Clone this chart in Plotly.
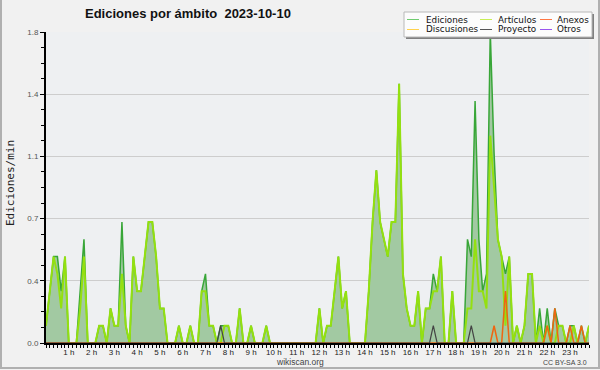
import plotly.graph_objects as go

# 10-minute bins, 144 per day (values in edits/min)
ediciones = [0.1, 0.3, 0.5, 0.5, 0.3, 0.5, 0, 0, 0, 0.3,
             0.6, 0, 0, 0, 0.1, 0.1, 0, 0.2, 0.1, 0.1,
             0.7, 0.1, 0, 0.5, 0.3, 0.3, 0.5, 0.7, 0.7, 0.5,
             0.2, 0.2, 0, 0, 0, 0.1, 0, 0, 0.1, 0,
             0, 0.3, 0.4, 0.1, 0.1, 0, 0.1, 0.1, 0.1, 0,
             0, 0.2, 0, 0, 0.1, 0, 0, 0, 0.1, 0,
             0, 0, 0, 0, 0, 0, 0, 0, 0, 0,
             0, 0, 0.2, 0, 0.1, 0.1, 0.3, 0.5, 0.2, 0.3,
             0, 0, 0, 0, 0, 0.3, 0.7, 1.0, 0.7, 0.6,
             0.5, 0.7, 0.7, 1.5, 0.4, 0.2, 0.1, 0.1, 0.3, 0,
             0.2, 0.2, 0.4, 0.3, 0.5, 0, 0, 0.3, 0, 0,
             0, 0.6, 0.5, 1.4, 0.6, 0.3, 0.4, 1.8, 1.1, 0.6,
             0.5, 0.4, 0.5, 0, 0.1, 0, 0.1, 0.4, 0.4, 0,
             0.2, 0, 0.2, 0, 0.2, 0.1, 0.1, 0, 0.1, 0.1,
             0, 0.1, 0, 0.1]
articulos = [0.1, 0.3, 0.5, 0.4, 0.2, 0.5, 0, 0, 0, 0.2,
             0.5, 0, 0, 0, 0.1, 0.1, 0, 0.2, 0.1, 0.1,
             0.4, 0.1, 0, 0.5, 0.3, 0.3, 0.5, 0.7, 0.7, 0.5,
             0.2, 0.2, 0, 0, 0, 0.1, 0, 0, 0.1, 0,
             0, 0.3, 0.3, 0.1, 0.1, 0, 0, 0.1, 0.1, 0,
             0, 0.2, 0, 0, 0.1, 0, 0, 0, 0.1, 0,
             0, 0, 0, 0, 0, 0, 0, 0, 0, 0,
             0, 0, 0.2, 0, 0.1, 0.1, 0.3, 0.5, 0.2, 0.3,
             0, 0, 0, 0, 0, 0.3, 0.7, 1.0, 0.7, 0.6,
             0.5, 0.7, 0.7, 1.5, 0.4, 0.2, 0.1, 0.1, 0.3, 0,
             0.2, 0.2, 0.3, 0.3, 0.5, 0, 0, 0.3, 0, 0,
             0, 0.2, 0.2, 0.6, 0.3, 0.3, 0.2, 1.2, 0.9, 0.6,
             0.5, 0.1, 0.5, 0, 0.1, 0, 0.1, 0.4, 0.4, 0,
             0.1, 0, 0.1, 0, 0, 0.1, 0.1, 0, 0, 0.1,
             0, 0, 0, 0.1]
anexos_bins = [118, 121, 132, 134, 138, 141]
anexos_vals = [0.1, 0.3, 0.1, 0.2, 0.1, 0.1]
proyecto_bins = [46, 102, 112]
proyecto_vals = [0.1, 0.1, 0.1]

hours = list(range(1, 24))
hour_labels = [f"{h} h" for h in hours]
y_ticks = [0, 0.36, 0.72, 1.08, 1.44, 1.8]
y_labels = ["0.0", "0.4", "0.7", "1.1", "1.4", "1.8"]

n = len(ediciones)
t = [i / 6 for i in range(n)]

def spread(bins, vals):
    out = [0.0] * n
    for b, v in zip(bins, vals):
        out[b] = v
    return out

anexos = spread(anexos_bins, anexos_vals)
proyecto = spread(proyecto_bins, proyecto_vals)

SANS = "Liberation Sans, Arial, sans-serif"

fig = go.Figure()
fig.add_trace(go.Scatter(x=t, y=ediciones, mode="lines", fill="tozeroy",
                         fillcolor="#a2c9a2", line=dict(color="#38a638", width=1.5),
                         name="Ediciones", showlegend=False))
fig.add_trace(go.Scatter(x=t, y=articulos, mode="lines",
                         line=dict(color="#94e010", width=2),
                         name="Artículos", showlegend=False))
fig.add_trace(go.Scatter(x=t, y=anexos, mode="lines",
                         line=dict(color="#ee6611", width=1.5),
                         name="Anexos", showlegend=False))
fig.add_trace(go.Scatter(x=t, y=proyecto, mode="lines",
                         line=dict(color="#444444", width=1.2),
                         name="Proyecto", showlegend=False))

L, R, T, B = 46, 589, 32, 343
W, H = R - L, B - T
def px(x):
    return (x - L) / W
def py(y):
    return (B - y) / H

shapes = []
annotations = []
# outer frame
for x0, y0, x1, y1 in [(1, 0, 1, 369), (0, 368, 600, 368), (599, 0, 599, 369)]:
    shapes.append(dict(type="line", xref="paper", yref="paper",
                       x0=px(x0), y0=py(y0), x1=px(x1), y1=py(y1),
                       line=dict(color="#b0b0b0", width=2)))
# legend box with shadow
shapes.append(dict(type="rect", xref="paper", yref="paper",
                   x0=px(406), y0=py(14), x1=px(594), y1=py(39),
                   fillcolor="#808080", line=dict(width=0)))
shapes.append(dict(type="rect", xref="paper", yref="paper",
                   x0=px(404), y0=py(12), x1=px(592), y1=py(37),
                   fillcolor="#fcfcfc", line=dict(color="#b8b8b8", width=1)))
legend_items = [
    ("Ediciones", "#70cc70", 407, 424, 19.5),
    ("Discusiones", "#ffd24d", 407, 424, 29.5),
    ("Artículos", "#c8ee55", 480, 496, 19.5),
    ("Proyecto", "#555555", 480, 496, 29.5),
    ("Anexos", "#ff7744", 540, 555, 19.5),
    ("Otros", "#9955ee", 540, 555, 29.5),
]
for name, col, lx, tx, yy in legend_items:
    shapes.append(dict(type="line", xref="paper", yref="paper",
                       x0=px(lx), x1=px(lx + 12), y0=py(yy), y1=py(yy),
                       line=dict(color=col, width=1)))
    annotations.append(dict(xref="paper", yref="paper", x=px(tx), y=py(yy),
                            text=name, showarrow=False, xanchor="left", yanchor="middle",
                            font=dict(family="DejaVu Sans", size=8.8, color="#111111")))

annotations += [
    dict(xref="paper", yref="paper", x=px(188), y=py(13.5), text="<b>Ediciones por ámbito  2023-10-10</b>",
         showarrow=False, xanchor="center", yanchor="middle",
         font=dict(family=SANS, size=13, color="#111111")),
    dict(xref="paper", yref="paper", x=px(10), y=py(183), text="Ediciones/min", textangle=-90,
         showarrow=False, xanchor="center", yanchor="middle",
         font=dict(family="DejaVu Sans Mono", size=11, color="#222222")),
    dict(xref="paper", yref="paper", x=px(300), y=py(362), text="wikiscan.org",
         showarrow=False, xanchor="center", yanchor="middle",
         font=dict(family=SANS, size=8.5, color="#444444")),
    dict(xref="paper", yref="paper", x=px(589), y=py(362), text="CC BY-SA 3.0",
         showarrow=False, xanchor="right", yanchor="middle",
         font=dict(family=SANS, size=7, color="#444444")),
]

fig.update_layout(
    width=600, height=370,
    margin=dict(l=L, r=600 - R, t=T, b=370 - B, pad=0),
    paper_bgcolor="#f1f1f1", plot_bgcolor="#eef0f2",
    showlegend=False,
    shapes=shapes, annotations=annotations,
    xaxis=dict(range=[0, (n - 1) / 6], tickmode="array", tickvals=hours, ticktext=hour_labels,
               ticks="outside", ticklen=3, tickcolor="#000000", tickwidth=1,
               ticklabelstandoff=-3,
               showgrid=False, zeroline=False, showline=True, linecolor="#000000", linewidth=2,
               tickfont=dict(family=SANS, size=8, color="#222222"),
               minor=dict(tickmode="linear", tick0=0, dtick=1 / 6, ticks="outside", ticklen=3,
                          tickcolor="#000000", tickwidth=1, showgrid=False),
               fixedrange=True),
    yaxis=dict(range=[0, 1.8], tickmode="array", tickvals=y_ticks, ticktext=y_labels,
               ticks="outside", ticklen=4, tickcolor="#000000", tickwidth=1,
               showgrid=True, gridcolor="#cdcdcd", gridwidth=1,
               zeroline=False, showline=True, linecolor="#000000", linewidth=2,
               tickfont=dict(family=SANS, size=8, color="#555555"),
               minor=dict(tickmode="linear", tick0=0, dtick=0.09, ticks="outside", ticklen=3,
                          tickcolor="#000000", tickwidth=1, showgrid=False),
               fixedrange=True),
)

fig.write_html("out.html", config={"displayModeBar": False},
               post_script="document.body.style.margin='0';document.body.style.overflow='hidden';")
